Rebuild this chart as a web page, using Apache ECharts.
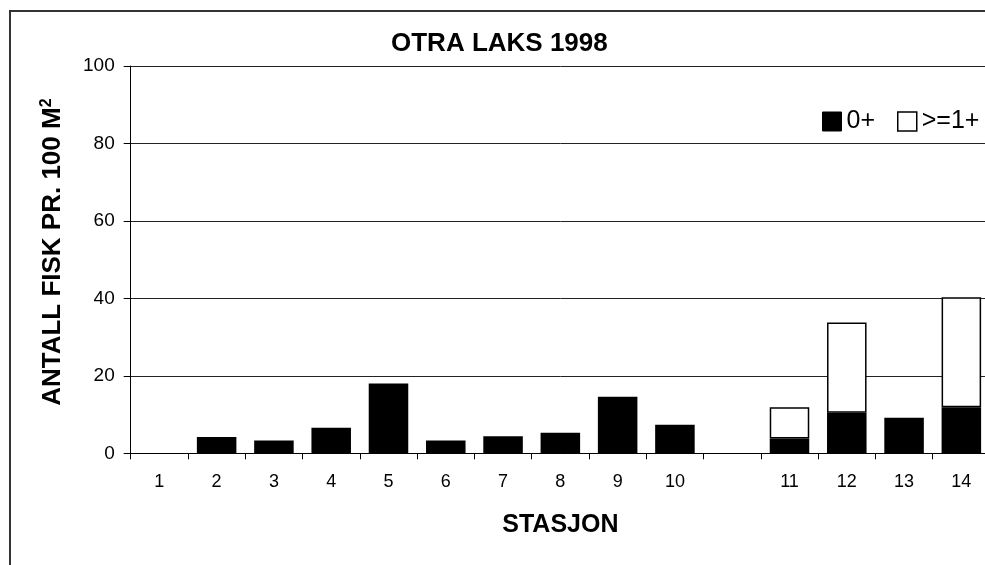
<!DOCTYPE html>
<html>
<head>
<meta charset="utf-8">
<script src="https://cdn.jsdelivr.net/npm/echarts@6/dist/echarts.min.js"></script>
<style>html,body{margin:0;padding:0;background:#fff;overflow:hidden;width:985px;height:565px;}#c{width:1000px;height:565px;}</style>
</head>
<body>
<div id="c"></div>
<script>
const categories = ['1','2','3','4','5','6','7','8','9','10','','11','12','13','14'];
const age0 = [0, 4.2, 3.3, 6.6, 18.0, 3.3, 4.4, 5.3, 14.6, 7.4, null, 3.8, 10.5, 9.2, 11.9];
const age1plus = [null, null, null, null, null, null, null, null, null, null, null, 8.1, 23.3, null, 28.4];
const yTicks = [0, 20, 40, 60, 80, 100];

const FONT = 'Arial, "Liberation Sans", sans-serif';
const chart = echarts.init(document.getElementById('c'), null, {renderer: 'canvas'});
chart.setOption({
  animation: false,
  backgroundColor: '#fff',
  title: {
    text: 'OTRA LAKS 1998',
    left: 391, top: 31, padding: 0,
    textStyle: {fontFamily: FONT, fontSize: 26, fontWeight: 'bold', color: '#000'}
  },
  legend: {
    left: 822, top: 109, padding: 0,
    itemWidth: 19, itemHeight: 19, itemGap: 22,
    icon: 'rect',
    textStyle: {fontFamily: FONT, fontSize: 25, color: '#000', padding: [0, 0, 0, 0]},
    data: [
      {name: '0+', itemStyle: {color: '#000', borderColor: '#000', borderWidth: 1}},
      {name: '>=1+', itemStyle: {color: '#fff', borderColor: '#000', borderWidth: 1.5}}
    ]
  },
  graphic: [{
    type: 'polyline',
    shape: {points: [[10, 600], [10, 11], [1000, 11]]},
    style: {stroke: '#333', lineWidth: 2, fill: null},
    silent: true
  }],
  grid: {left: 130.7, top: 66, width: 859.3, height: 387.3, containLabel: false},
  xAxis: {
    type: 'category',
    data: categories,
    name: 'STASJON',
    nameLocation: 'middle',
    nameGap: 59,
    nameTextStyle: {fontFamily: FONT, fontSize: 25, fontWeight: 'bold', color: '#000'},
    axisLine: {lineStyle: {color: '#000', width: 1}},
    axisTick: {show: true, length: 6, lineStyle: {color: '#000'}},
    axisLabel: {fontFamily: FONT, fontSize: 18, color: '#000', margin: 20},
    boundaryGap: true
  },
  yAxis: {
    type: 'value',
    min: yTicks[0], max: yTicks[yTicks.length - 1], interval: 20,
    name: 'ANTALL FISK PR. 100 M{sup|2}',
    nameLocation: 'middle',
    nameGap: 64,
    nameRotate: 90,
    nameTextStyle: {
      fontFamily: FONT, fontSize: 26, fontWeight: 'bold', color: '#000',
      padding: [0, 0, 0, 15],
      rich: {sup: {fontFamily: FONT, fontSize: 16, fontWeight: 'bold', verticalAlign: 'top', color: '#000', padding: [0, 0, 12, 0]}}
    },
    axisLine: {show: true, lineStyle: {color: '#000', width: 1}},
    axisTick: {show: true, length: 7, lineStyle: {color: '#000'}},
    axisLabel: {fontFamily: FONT, fontSize: 19, color: '#000', margin: 16},
    splitLine: {show: true, lineStyle: {color: '#222', width: 1}}
  },
  series: [
    {
      name: '0+', type: 'bar', stack: 'a', data: age0,
      barCategoryGap: '31%',
      itemStyle: {color: '#000', borderWidth: 0}
    },
    {
      name: '>=1+', type: 'bar', stack: 'a', data: age1plus,
      barCategoryGap: '31%',
      itemStyle: {color: '#fff', borderColor: '#000', borderWidth: 1.5}
    }
  ]
});
</script>
</body>
</html>
